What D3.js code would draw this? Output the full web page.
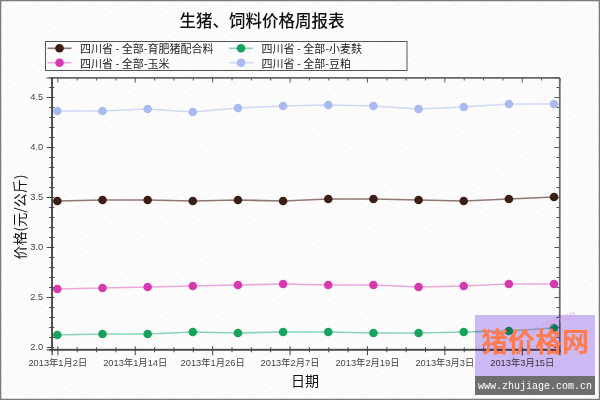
<!DOCTYPE html>
<html>
<head>
<meta charset="utf-8">
<script src="https://cdn.jsdelivr.net/npm/d3@7"></script>
<style>
  html, body { margin: 0; padding: 0; background: #fff; }
  svg { display: block; font-family: "Liberation Sans", "Noto Sans CJK SC", sans-serif; }
</style>
</head>
<body>
<svg id="chart" width="600" height="400"></svg>
<script>
// weekly dates
const dates = ["2013-01-02", "2013-01-09", "2013-01-16", "2013-01-23", "2013-01-30", "2013-02-06",
               "2013-02-13", "2013-02-20", "2013-02-27", "2013-03-06", "2013-03-13", "2013-03-20"];

// series values (元/公斤)
const feedValues = [3.46, 3.47, 3.47, 3.46, 3.47, 3.46, 3.48, 3.48, 3.47, 3.46, 3.48, 3.50];
const cornValues = [2.58, 2.59, 2.60, 2.61, 2.62, 2.63, 2.62, 2.62, 2.60, 2.61, 2.63, 2.63];
const branValues = [2.12, 2.13, 2.13, 2.15, 2.14, 2.15, 2.15, 2.14, 2.14, 2.15, 2.16, 2.19];
const mealValues = [4.36, 4.36, 4.38, 4.35, 4.39, 4.41, 4.42, 4.41, 4.38, 4.40, 4.43, 4.43];

const seriesNames = ["四川省 - 全部-育肥猪配合料", "四川省 - 全部-玉米", "四川省 - 全部-小麦麸", "四川省 - 全部-豆粕"];

const yTickValues = [2.0, 2.5, 3.0, 3.5, 4.0, 4.5];

const parseDate = d3.timeParse("%Y-%m-%d");
const days = dates.map(parseDate);

const series = [
  {name: seriesNames[0], values: feedValues, dot: "#3b1e16", line: "#8f7772"},
  {name: seriesNames[1], values: cornValues, dot: "#d63aae", line: "#eba8dd"},
  {name: seriesNames[2], values: branValues, dot: "#17a35c", line: "#8ad4b6"},
  {name: seriesNames[3], values: mealValues, dot: "#a9baf0", line: "#cfd9f6"}
];

const svg = d3.select("#chart");
const plot = {left: 51.7, right: 559.4, top: 77.5, bottom: 349.3};

// background + faint pattern
const defs = svg.append("defs");
const pat = defs.append("pattern")
  .attr("id", "bgpat")
  .attr("width", 14).attr("height", 14)
  .attr("patternUnits", "userSpaceOnUse")
  .attr("patternTransform", "rotate(-30)");
pat.append("rect").attr("width", 14).attr("height", 14).attr("fill", "#fdfcfc");
pat.append("line")
  .attr("x1", 0).attr("x2", 14).attr("y1", 7).attr("y2", 7)
  .attr("stroke", "#f2d6da").attr("stroke-width", 0.8)
  .attr("stroke-dasharray", "1,2.5");

svg.append("rect")
  .attr("width", 600).attr("height", 400)
  .attr("fill", "url(#bgpat)");
svg.append("rect")
  .attr("x", 0.5).attr("y", 0.5).attr("width", 599).attr("height", 399)
  .attr("fill", "none").attr("stroke", "#7a7a7a").attr("stroke-width", 1.5);

// scales
const x = d3.scaleTime()
  .domain([new Date(2013, 0, 1, 3), new Date(2013, 2, 20, 20)])
  .range([plot.left, plot.right]);

const y = d3.scaleLinear()
  .domain([1.977, 4.695])
  .range([plot.bottom, plot.top]);

const firstDay = days[0];
const tickDays = d3.timeDay.range(firstDay, new Date(2013, 2, 21))
  .filter(d => d3.timeDay.count(firstDay, d) % 3 === 0);
const majorDays = tickDays.filter(d => d3.timeDay.count(firstDay, d) % 12 === 0);
const minorDays = tickDays.filter(d => d3.timeDay.count(firstDay, d) % 12 !== 0);
const yMinor = d3.range(20, 47).map(v => v / 10).filter(v => Math.round(v * 10) % 5 !== 0);

const axisColor = "#444";
const g = svg.append("g");

// frame
g.append("rect")
  .attr("x", plot.left).attr("y", plot.top)
  .attr("width", plot.right - plot.left).attr("height", plot.bottom - plot.top)
  .attr("fill", "none").attr("stroke", "#666").attr("stroke-width", 1);

// bottom axis
const axBottom = g.append("g").attr("transform", `translate(0,${plot.bottom})`);
axBottom.append("g")
  .call(d3.axisBottom(x).tickValues(minorDays).tickSize(3).tickFormat(""))
  .call(s => s.selectAll("line").attr("y1", -2).attr("stroke", axisColor));
axBottom.append("g")
  .call(d3.axisBottom(x).tickValues(majorDays).tickSize(6)
    .tickFormat(d => `${d.getFullYear()}年${d.getMonth() + 1}月${d.getDate()}日`))
  .call(s => s.selectAll("line").attr("y1", -3).attr("stroke", axisColor))
  .call(s => s.selectAll("text").attr("y", 10).attr("font-size", 9.3).attr("fill", "#444")
    .attr("font-family", "'Liberation Sans','Noto Sans CJK SC',sans-serif"));
axBottom.selectAll(".domain").attr("stroke", axisColor).attr("stroke-width", 1.2);

// top axis (mirror)
const axTop = g.append("g").attr("transform", `translate(0,${plot.top})`);
axTop.append("g")
  .call(d3.axisBottom(x).tickValues(minorDays).tickSize(3).tickFormat(""));
axTop.append("g")
  .call(d3.axisBottom(x).tickValues(majorDays).tickSize(5).tickFormat(""));
axTop.selectAll("line").attr("stroke", "#555");
axTop.selectAll(".domain").attr("stroke", "#666");

// left axis
const axLeft = g.append("g").attr("transform", `translate(${plot.left},0)`);
axLeft.append("g")
  .call(d3.axisLeft(y).tickValues(yMinor).tickSize(2.5).tickFormat(""))
  .call(s => s.selectAll("line").attr("x1", 2.5).attr("stroke", axisColor));
axLeft.append("g")
  .call(d3.axisLeft(y).tickValues(yTickValues).tickSize(5).tickFormat(d3.format(".1f")))
  .call(s => s.selectAll("line").attr("x1", 2.5).attr("stroke", axisColor))
  .call(s => s.selectAll("text").attr("x", -8.5).attr("font-size", 9.3).attr("fill", "#444"));
axLeft.selectAll(".domain").attr("stroke", axisColor).attr("stroke-width", 1.2);

// right axis (mirror)
const axRight = g.append("g").attr("transform", `translate(${plot.right},0)`);
axRight.append("g")
  .call(d3.axisLeft(y).tickValues(yMinor).tickSize(3).tickFormat(""));
axRight.append("g")
  .call(d3.axisLeft(y).tickValues(yTickValues).tickSize(5).tickFormat(""));
axRight.selectAll("line").attr("stroke", "#555");
axRight.selectAll(".domain").attr("stroke", "#666");

// lines and markers
const line = d3.line()
  .x((d, i) => x(days[i]))
  .y(d => y(d));

series.forEach(s => {
  g.append("path")
    .datum(s.values)
    .attr("d", line)
    .attr("fill", "none")
    .attr("stroke", s.line)
    .attr("stroke-width", 1.6);
  g.append("g")
    .selectAll("circle")
    .data(s.values)
    .enter()
      .append("circle")
      .attr("cx", (d, i) => x(days[i]))
      .attr("cy", d => y(d))
      .attr("r", 4.3)
      .attr("fill", s.dot);
});

// title
svg.append("text")
  .text("生猪、饲料价格周报表")
  .attr("x", 262).attr("y", 26.5)
  .attr("text-anchor", "middle")
  .attr("font-family", "'Noto Sans CJK SC',sans-serif")
  .attr("font-size", 16.5)
  .attr("font-weight", 500)
  .attr("fill", "#111");

// axis titles
svg.append("text")
  .text("价格(元/公斤)")
  .attr("transform", "translate(19,217) rotate(-90)")
  .attr("text-anchor", "middle")
  .attr("dominant-baseline", "central")
  .attr("font-family", "'Noto Sans CJK SC',sans-serif")
  .attr("font-size", 14)
  .attr("fill", "#111");

svg.append("text")
  .text("日期")
  .attr("x", 305).attr("y", 386)
  .attr("text-anchor", "middle")
  .attr("font-family", "'Noto Sans CJK SC',sans-serif")
  .attr("font-size", 14)
  .attr("fill", "#111");

// legend
const legend = svg.append("g");
legend.append("rect")
  .attr("x", 45.5).attr("y", 41.5).attr("width", 361.5).attr("height", 29)
  .attr("fill", "none").attr("stroke", "#555").attr("stroke-width", 1);

const legendPos = [
  {x: 47.5, y: 48.3}, {x: 47.5, y: 62.7}, {x: 229, y: 48.3}, {x: 229, y: 62.7}
];
series.forEach((s, i) => {
  const p = legendPos[i];
  const item = legend.append("g").attr("transform", `translate(${p.x},${p.y})`);
  item.append("line")
    .attr("x1", 0).attr("x2", 24).attr("y1", 0).attr("y2", 0)
    .attr("stroke", s.line).attr("stroke-width", 1.6);
  item.append("circle")
    .attr("cx", 12).attr("cy", 0).attr("r", 4.3).attr("fill", s.dot);
  item.append("text")
    .text(s.name)
    .attr("x", 32.5).attr("y", 0)
    .attr("dominant-baseline", "central")
    .attr("font-family", "'Noto Sans CJK SC',sans-serif")
    .attr("font-size", 11)
    .attr("fill", "#222");
});

// watermark
const wm = svg.append("g");
wm.append("rect")
  .attr("x", 475).attr("y", 315).attr("width", 120).attr("height", 61)
  .attr("fill", "#c6b0f6").attr("opacity", 0.85)
  .style("mix-blend-mode", "multiply");
wm.append("text")
  .text("zhujiage.com.cn")
  .attr("transform", "translate(540,331) rotate(-22)")
  .attr("text-anchor", "middle")
  .attr("font-size", 10).attr("font-weight", "bold")
  .attr("fill", "#d8a0e0").attr("opacity", 0.55);
wm.append("text")
  .text("猪价格网")
  .attr("x", 535).attr("y", 351.5)
  .attr("text-anchor", "middle")
  .attr("font-family", "'Noto Sans CJK SC',sans-serif")
  .attr("font-weight", "bold")
  .attr("font-size", 27)
  .attr("fill", "#ff7b52");
wm.append("rect")
  .attr("x", 475).attr("y", 376).attr("width", 120).attr("height", 19)
  .attr("fill", "#6e6e6e");
wm.append("text")
  .text("www.zhujiage.com.cn")
  .attr("x", 535).attr("y", 386)
  .attr("text-anchor", "middle")
  .attr("dominant-baseline", "central")
  .attr("font-family", "'Liberation Mono','DejaVu Sans Mono',monospace")
  .attr("font-size", 10)
  .attr("fill", "#fff");
</script>
</body>
</html>
